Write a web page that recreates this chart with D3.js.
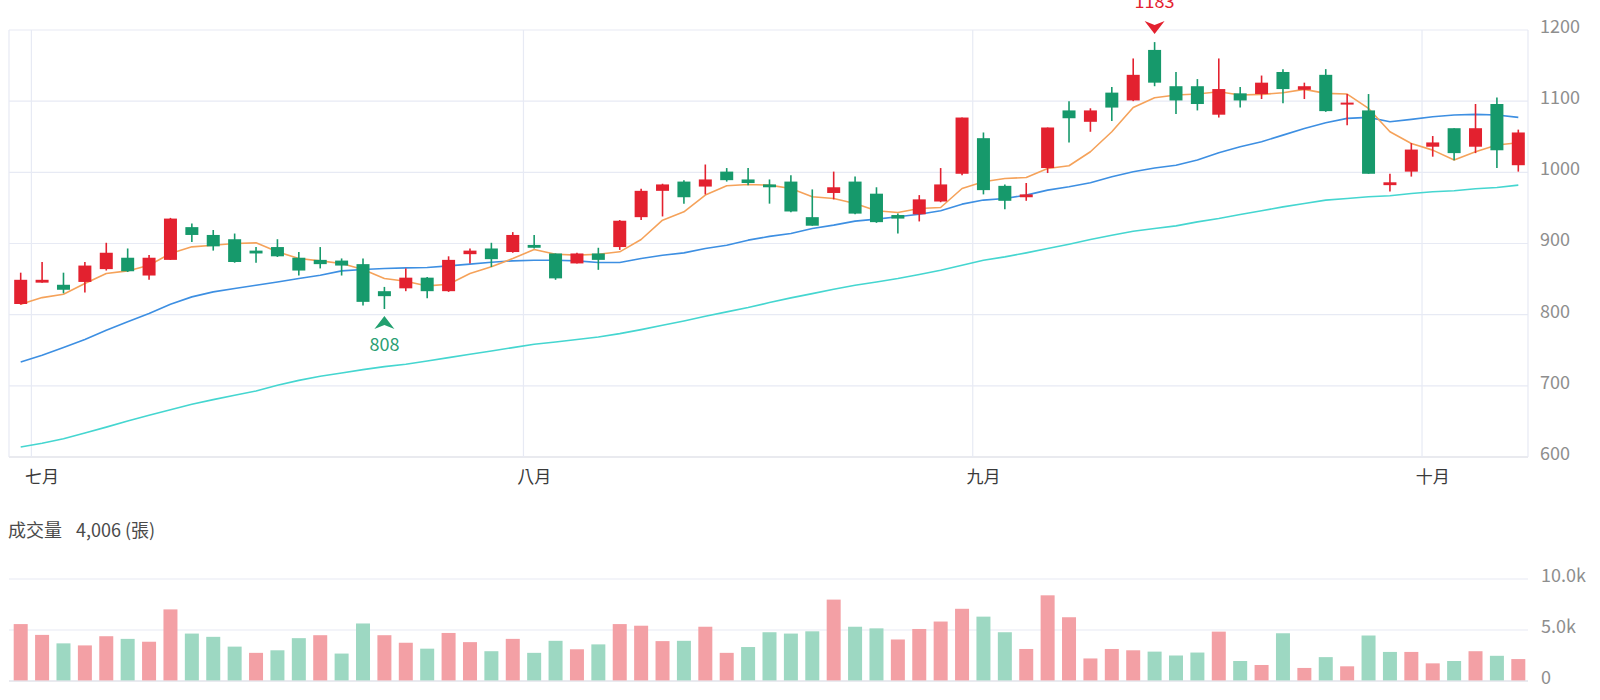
<!DOCTYPE html>
<html>
<head>
<meta charset="utf-8">
<script src="https://cdn.jsdelivr.net/npm/d3@7"></script>
<style>
  body { margin: 0; background: #fff; }
  svg { display: block; font-family: "Noto Sans CJK TC", "Noto Sans", sans-serif; }
</style>
</head>
<body>
<svg id="chart" width="1600" height="700"></svg>
<script>
// ---------------- data ----------------
const open  = [815,845,842,846,864,880,855,877,923,912,906,890,895,880,877,876,871,833,837,852,833,885,893,888,898,886,872,886,895,937,974,987,980,1001,990,983,987,937,971,987,970,940,941,959,998,1048,981,965,1006,1087,1071,1112,1101,1172,1121,1121,1081,1111,1110,1141,1116,1137,1096,1087,982,1001,1036,1062,1036,1096,1010];
const high  = [859,874,859,874,901,893,884,936,928,919,914,895,906,888,895,879,879,839,865,853,882,893,901,916,912,886,887,894,933,977,984,989,1011,1006,1006,990,996,976,1001,994,979,942,968,1006,1077,1056,983,985,1063,1100,1090,1120,1160,1183,1141,1131,1160,1120,1136,1145,1126,1145,1110,1110,998,1041,1051,1062,1096,1105,1060];
const low   = [814,845,830,831,862,860,849,877,902,890,873,873,881,855,865,855,813,808,833,823,832,872,867,887,893,849,872,863,891,933,938,956,969,987,982,956,944,925,962,941,929,914,931,958,996,969,948,960,999,1042,1057,1072,1100,1121,1082,1087,1077,1091,1103,1097,1103,1085,1066,998,973,994,1022,1017,1027,1006,1001];
const close = [849,849,835,869,887,861,880,935,912,896,874,886,882,862,871,869,818,826,852,833,877,890,878,912,894,851,886,877,932,974,983,965,990,989,985,979,945,925,979,942,930,935,962,983,1077,975,960,969,1063,1076,1087,1091,1137,1126,1101,1096,1117,1101,1126,1117,1121,1086,1098,998,986,1032,1042,1027,1062,1031,1056];
const volume = [5580,4520,3690,3490,4390,4130,3850,7020,4650,4330,3370,2760,3010,4200,4490,2690,5640,4490,3750,3170,4710,3810,2920,4130,2760,3940,3110,3590,5580,5420,3910,3940,5320,2760,3330,4780,4650,4870,7980,5320,5160,4070,5100,5830,7080,6310,4780,3140,8400,6250,2210,3140,3010,2880,2500,2790,4840,1960,1570,4680,1280,2340,1440,4460,2850,2850,1730,1960,2920,2470,2150];
// volume bar colour: 1 = up (red), 0 = down (green)
const volumeUp = [1,1,0,1,1,0,1,1,0,0,0,1,0,0,1,0,0,1,1,0,1,1,0,1,0,0,1,0,1,1,1,0,1,1,0,0,0,0,1,0,0,1,1,1,1,0,0,1,1,1,1,1,1,0,0,0,1,0,1,0,1,0,1,0,0,1,1,0,1,0,1];
const ma5  = [814.6,824,828.7,843.7,857.8,861.5,869.5,885.9,895.3,897.6,900,900.9,888.3,878.9,875.6,871.9,863.4,850.8,847,840.4,842.8,857.8,867.2,878.9,891.5,885,883.6,885,888.3,905.6,932.8,944.5,968,981.1,983,982,977.3,965.6,963.3,956.2,946,943.6,949.2,950.6,977.3,986.7,991.4,992.8,1005.5,1009.2,1028.9,1057,1091.2,1104.8,1108.6,1110,1113.3,1108.6,1109.5,1111.9,1116.6,1110.9,1110,1089.8,1057,1040.6,1031.2,1017.2,1028.9,1038.3,1041.6];
const ma20 = [733.5,743,753.7,765,778,790,801.5,814.6,825,832,836.7,841.4,846,850.8,855.5,861.5,863.4,864.8,865.7,866.2,868.6,871,873.7,875.6,876.5,876.5,875.6,873.3,873.3,879,883.6,886.8,893,897.6,904.7,910,914,921,925.8,931.4,934.2,937.5,941.2,946,955.3,961,963.3,968,975,979.7,985.3,993.7,1000.8,1006,1010,1017.2,1027.5,1036,1043,1052.3,1061.7,1069.7,1075.8,1077.2,1071.1,1074.4,1078.1,1080.5,1081.4,1080.5,1077.2];
const ma60 = [614,619.4,625.7,633.7,642,650.6,658.6,666.5,674,680.6,686.7,692.8,700.7,707.7,713.4,718,722.8,727,730.3,735,739.6,744.3,749,753.7,758.4,761.7,765,768.7,773.4,779,785.1,791.2,797.8,803.9,810,817,823.6,829.6,835.7,841.4,846,850.8,856.4,862.5,869.5,876.5,881.2,886.8,892.9,899,905.6,911.7,917.3,921,924.8,930.4,935.1,940.7,945.9,951.5,956.2,961,963.3,965.6,967,970.3,972.7,974.1,976.9,978.7,982];
const monthLabels = ["七月","八月","九月","十月"];
const monthStartIndex = [1,24,45,66];
const priceTicks = [600,700,800,900,1000,1100,1200];
const volumeTicks = [0,5000,10000];
const volumeTickLabels = ["0","5.0k","10.0k"];
const volumeTitle = "成交量";
const volumeValueText = "4,006 (張)";
const highMark = {index:53, value:1183, label:"1183"};
const lowMark  = {index:17, value:808,  label:"808"};

// ---------------- styles ----------------
const C = {
  up: "#e3212f", down: "#16996b",
  volUp: "#f3a0a5", volDown: "#9dd8c2",
  ma5: "#f5a25a", ma20: "#3d8fe2", ma60: "#45d6d0",
  grid: "#e7eaf4", axisLine: "#d3d6df", label: "#8e8e8e", month: "#3a3a3a"
};

const svg = d3.select("#chart");
const n = open.length;
const idx = d3.range(n);
const left = 9, right = 1528;
const x = d3.scaleBand().domain(idx).range([10, 1529]).paddingInner(0).paddingOuter(0);
const xc = i => x(i) + x.bandwidth() / 2;
const y = d3.scaleLinear().domain([600, 1200]).range([457, 30]);
const yv = d3.scaleLinear().domain([0, 10000]).range([681, 579]);

// ---------------- price grid ----------------
const g = svg.append("g");
g.selectAll("line.hgrid").data(priceTicks).join("line")
  .attr("x1", left).attr("x2", right)
  .attr("y1", d => y(d)).attr("y2", d => y(d))
  .attr("stroke", d => d === 600 ? C.axisLine : C.grid).attr("stroke-width", 1.2);
g.selectAll("line.vborder").data([left, right]).join("line")
  .attr("x1", d => d).attr("x2", d => d).attr("y1", y(1200)).attr("y2", y(600))
  .attr("stroke", C.grid).attr("stroke-width", 1.2);
g.selectAll("line.mgrid").data(monthStartIndex).join("line")
  .attr("x1", d => x(d)).attr("x2", d => x(d)).attr("y1", y(1200)).attr("y2", y(600))
  .attr("stroke", C.grid).attr("stroke-width", 1.2);

// price axis labels
g.selectAll("text.pl").data(priceTicks).join("text")
  .attr("x", 1540).attr("y", d => y(d) - 2)
  .attr("dominant-baseline", "middle")
  .attr("font-size", 18).attr("fill", C.label).text(d => d);

// month labels
g.selectAll("text.ml").data(monthStartIndex).join("text")
  .attr("x", d => xc(d)).attr("y", 483)
  .attr("text-anchor", "middle").attr("font-size", 17).attr("fill", C.month)
  .text((d, i) => monthLabels[i]);

// ---------------- MA lines ----------------
const line = arr => d3.line().x((d, i) => xc(i)).y(d => y(d)).curve(d3.curveLinear)(arr);
[[ma60, C.ma60], [ma20, C.ma20], [ma5, C.ma5]].forEach(([arr, col]) => {
  g.append("path").attr("d", line(arr)).attr("fill", "none")
    .attr("stroke", col).attr("stroke-width", 1.6).attr("stroke-linejoin", "round");
});

// ---------------- candles ----------------
const bodyW = 13;
const cg = g.selectAll("g.candle").data(idx).join("g");
cg.append("line")
  .attr("x1", i => xc(i)).attr("x2", i => xc(i))
  .attr("y1", i => y(high[i])).attr("y2", i => y(low[i]))
  .attr("stroke", i => close[i] >= open[i] ? C.up : C.down).attr("stroke-width", 1.6);
cg.append("rect")
  .attr("x", i => xc(i) - bodyW / 2).attr("width", bodyW)
  .attr("y", i => y(Math.max(open[i], close[i])))
  .attr("height", i => Math.max(2, Math.abs(y(open[i]) - y(close[i]))))
  .attr("fill", i => close[i] >= open[i] ? C.up : C.down);

// ---------------- high / low markers ----------------
const hx = xc(highMark.index), hy = y(highMark.value);
g.append("path")
  .attr("d", `M${hx-10},${hy-21} L${hx},${hy-17} L${hx+10},${hy-21} L${hx},${hy-8} Z`)
  .attr("fill", C.up);
g.append("text").attr("x", hx).attr("y", hy - 34).attr("text-anchor", "middle")
  .attr("font-size", 18).attr("fill", C.up).text(highMark.label);

const lx = xc(lowMark.index), ly = y(lowMark.value);
g.append("path")
  .attr("d", `M${lx-10},${ly+20} L${lx},${ly+16} L${lx+10},${ly+20} L${lx},${ly+7} Z`)
  .attr("fill", "#22a06f");
g.append("text").attr("x", lx).attr("y", ly + 42).attr("text-anchor", "middle")
  .attr("font-size", 18).attr("fill", "#2a9f73").text(lowMark.label);

// ---------------- volume ----------------
const vg = svg.append("g");
const title = vg.append("text").attr("x", 8).attr("y", 537).attr("font-size", 18).attr("fill", "#4a4a4a");
title.append("tspan").text(volumeTitle);
title.append("tspan").attr("x", 76).text(volumeValueText);
vg.selectAll("line.vgrid").data(volumeTicks).join("line")
  .attr("x1", left).attr("x2", right)
  .attr("y1", d => yv(d)).attr("y2", d => yv(d))
  .attr("stroke", d => d === 0 ? C.axisLine : C.grid).attr("stroke-width", 1.2);
vg.selectAll("text.vl").data(volumeTicks).join("text")
  .attr("x", 1541).attr("y", d => yv(d) - 2)
  .attr("dominant-baseline", "middle").attr("font-size", 18).attr("fill", C.label)
  .text((d, i) => volumeTickLabels[i]);
const barW = 14;
vg.selectAll("rect.vb").data(idx).join("rect")
  .attr("x", i => xc(i) - barW / 2).attr("width", barW)
  .attr("y", i => yv(volume[i])).attr("height", i => yv(0) - yv(volume[i]) - 0.6)
  .attr("fill", i => volumeUp[i] ? C.volUp : C.volDown);
</script>
</body>
</html>
